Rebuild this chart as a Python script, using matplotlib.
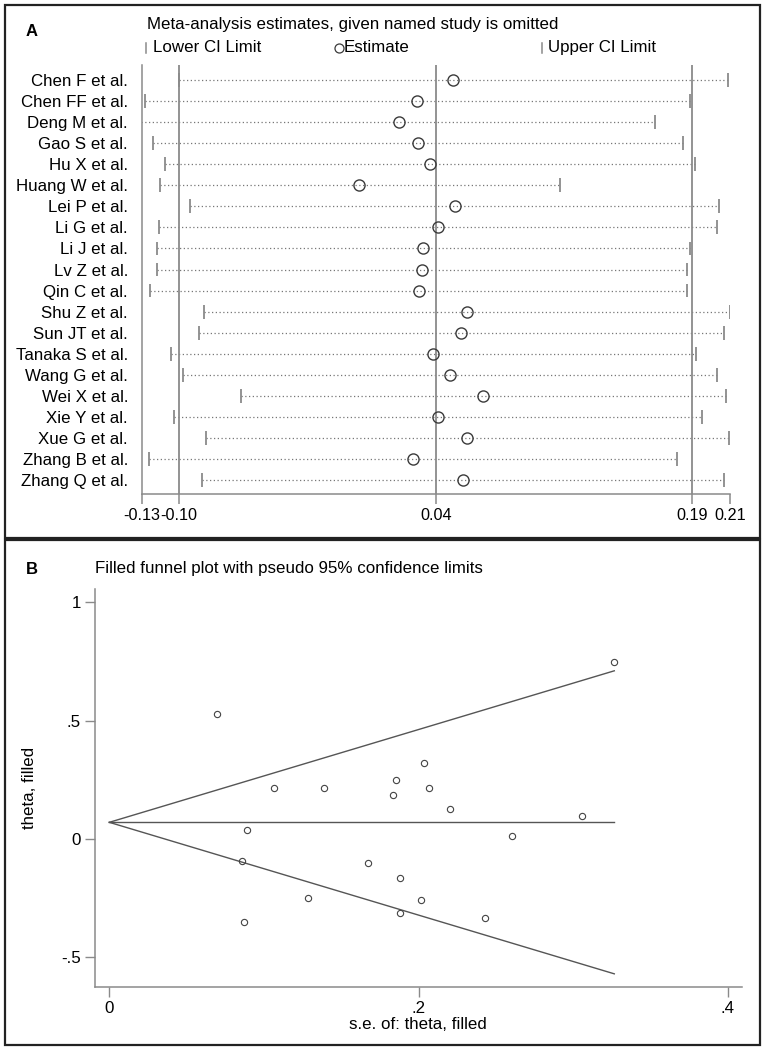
import matplotlib
matplotlib.use("Agg")
import matplotlib.pyplot as plt
from matplotlib.patches import Rectangle

plt.rcParams["font.family"] = ["Liberation Sans", "DejaVu Sans"]

# Panel A: leave-one-out sensitivity analysis
studies = ["Chen F et al.", "Chen FF et al.", "Deng M et al.", "Gao S et al.",
           "Hu X et al.", "Huang W et al.", "Lei P et al.", "Li G et al.",
           "Li J et al.", "Lv Z et al.", "Qin C et al.", "Shu Z et al.",
           "Sun JT et al.", "Tanaka S et al.", "Wang G et al.", "Wei X et al.",
           "Xie Y et al.", "Xue G et al.", "Zhang B et al.", "Zhang Q et al."]
lower_ci = [-0.1088, -0.1285, -0.1304, -0.1239, -0.1169, -0.1198, -0.1021, -0.1204,
            -0.1213, -0.1213, -0.1256, -0.0940, -0.0973, -0.1135, -0.1061, -0.0727,
            -0.1115, -0.0930, -0.1260, -0.0951]
estimate = [0.0497, 0.0290, 0.0184, 0.0294, 0.0363, -0.0047, 0.0508, 0.0414,
            0.0325, 0.0317, 0.0300, 0.0577, 0.0545, 0.0381, 0.0479, 0.0672,
            0.0414, 0.0581, 0.0265, 0.0558]
upper_ci = [0.2087, 0.1867, 0.1669, 0.1829, 0.1896, 0.1115, 0.2039, 0.2026,
            0.1871, 0.1852, 0.1854, 0.2101, 0.2066, 0.1902, 0.2023, 0.2074,
            0.1939, 0.2095, 0.1794, 0.2066]
overall = [-0.1086, 0.0400, 0.1880]
a_ticks = [-0.13, -0.1086, 0.0400, 0.1880, 0.21]
a_ticklabels = ["-0.13", "-0.10", "0.04", "0.19", "0.21"]

# Panel B: filled funnel plot
se_filled = [0.0695, 0.3265, 0.1067, 0.1390, 0.1854, 0.1833, 0.2037, 0.2070,
             0.2204, 0.3060, 0.2607, 0.0890, 0.0858, 0.1675, 0.1882, 0.1287,
             0.2018, 0.1882, 0.0869, 0.2430]
theta_filled = [0.528, 0.748, 0.217, 0.217, 0.249, 0.186, 0.322, 0.217,
                0.125, 0.098, 0.014, 0.037, -0.094, -0.103, -0.163, -0.251,
                -0.256, -0.313, -0.351, -0.332]
pooled_theta = 0.0705
max_se = 0.3266

W, H = 765, 1050
fig = plt.figure(figsize=(W / 100, H / 100), dpi=100)


def px_axes(left, top, right, bottom):
    return fig.add_axes([left / W, 1 - bottom / H, (right - left) / W, (bottom - top) / H])


grey = "#8a8a8a"
dark = "#3a3a3a"
fs = 12.2

# panel frames
for top, bottom in [(5, 538), (540, 1045)]:
    fig.patches.append(Rectangle((5 / W, 1 - bottom / H), 755 / W, (bottom - top) / H,
                                 transform=fig.transFigure, fill=False,
                                 edgecolor="#222222", linewidth=1.6))

# ---------- Panel A ----------
ax1 = px_axes(142, 65, 730, 494)
rows = list(range(len(studies)))
for i in rows:
    ax1.plot([lower_ci[i], upper_ci[i]], [i, i], linestyle=(0, (1, 2)),
             color="#777777", linewidth=0.9)
ax1.vlines(overall, -0.72, 19.67, color=grey, linewidth=1.3)
ax1.vlines(lower_ci, [r - 0.33 for r in rows], [r + 0.33 for r in rows],
           color=grey, linewidth=1.3)
ax1.vlines(upper_ci, [r - 0.33 for r in rows], [r + 0.33 for r in rows],
           color=grey, linewidth=1.3)
ax1.plot(estimate, rows, "o", markersize=8, markerfacecolor="none",
         markeredgecolor=dark, markeredgewidth=1.0)
ax1.set_xlim(-0.13, 0.21)
ax1.set_ylim(19.67, -0.72)
ax1.set_yticks(rows)
ax1.set_yticklabels(studies, fontsize=fs)
ax1.tick_params(axis="y", length=0, pad=10)
ax1.set_xticks(a_ticks)
ax1.set_xticklabels(a_ticklabels, fontsize=11.7)
ax1.tick_params(axis="x", length=7, width=1.1, color=grey, pad=3)
for s in ["top", "right"]:
    ax1.spines[s].set_visible(False)
for s in ["left", "bottom"]:
    ax1.spines[s].set_color(grey)
    ax1.spines[s].set_linewidth(1.1)

fig.text(26 / W, 1 - 32 / H, "A", fontsize=12, fontweight="bold", va="center")
fig.text(147 / W, 1 - 25 / H, "Meta-analysis estimates, given named study is omitted",
         fontsize=fs, va="center")
fig.lines.append(plt.Line2D([145.7 / W, 145.7 / W], [1 - 43 / H, 1 - 53 / H],
                            transform=fig.transFigure, color=grey, linewidth=1.1))
fig.text(153 / W, 1 - 47.5 / H, "Lower CI Limit", fontsize=fs, va="center")
fig.lines.append(plt.Line2D([339 / W], [1 - 47.5 / H], transform=fig.transFigure,
                            marker="o", markersize=6.5, markerfacecolor="none",
                            markeredgecolor=dark, markeredgewidth=0.9, linestyle="none"))
fig.text(343.5 / W, 1 - 47.5 / H, "Estimate", fontsize=fs, va="center")
fig.lines.append(plt.Line2D([542.3 / W, 542.3 / W], [1 - 43 / H, 1 - 53 / H],
                            transform=fig.transFigure, color=grey, linewidth=1.1))
fig.text(548 / W, 1 - 47.5 / H, "Upper CI Limit", fontsize=fs, va="center")

# ---------- Panel B ----------
ax2 = px_axes(95, 589.3, 741.7, 986.7)
ax2.plot([0, max_se], [pooled_theta, pooled_theta + 1.96 * max_se], color="#555555", linewidth=1.0)
ax2.plot([0, max_se], [pooled_theta, pooled_theta - 1.96 * max_se], color="#555555", linewidth=1.0)
ax2.plot([0, max_se], [pooled_theta, pooled_theta], color="#555555", linewidth=1.0)
ax2.plot(se_filled, theta_filled, "o", markersize=4.5, markerfacecolor="none",
         markeredgecolor="#444444", markeredgewidth=0.8)
ax2.set_xlim(-0.00925, 0.409)
ax2.set_ylim(-0.624, 1.055)
ax2.set_xticks([0, 0.2, 0.4])
ax2.set_xticklabels(["0", ".2", ".4"], fontsize=fs)
ax2.set_yticks([-0.5, 0, 0.5, 1])
ax2.set_yticklabels(["-.5", "0", ".5", "1"], fontsize=fs)
ax2.tick_params(length=7, width=1.0, color=grey, pad=3)
for s in ["top", "right"]:
    ax2.spines[s].set_visible(False)
for s in ["left", "bottom"]:
    ax2.spines[s].set_color(grey)
    ax2.spines[s].set_linewidth(1.1)
ax2.set_xlabel("s.e. of: theta, filled", fontsize=fs, labelpad=1)
ax2.set_ylabel("theta, filled", fontsize=fs)
ax2.yaxis.set_label_coords((37 - 95) / (741.7 - 95), 0.5)

fig.text(26 / W, 1 - 569 / H, "B", fontsize=12, fontweight="bold", va="center")
fig.text(95 / W, 1 - 569 / H, "Filled funnel plot with pseudo 95% confidence limits",
         fontsize=fs, va="center")

fig.savefig("out.png", dpi=100)
